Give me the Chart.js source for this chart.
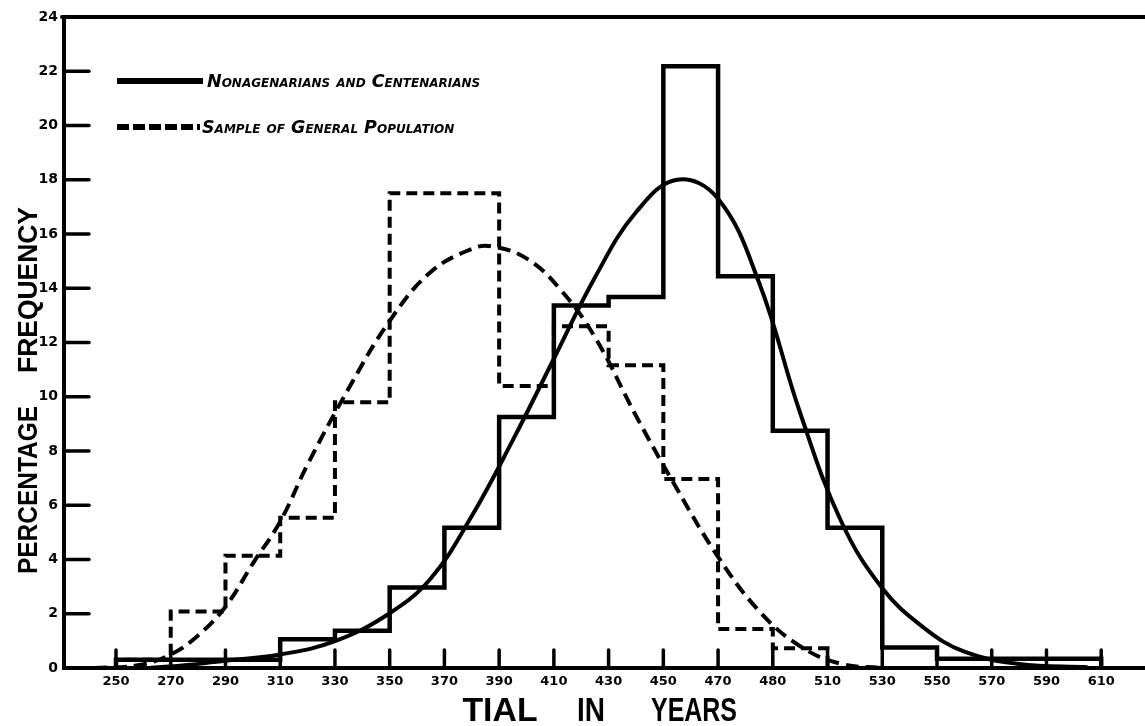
<!DOCTYPE html>
<html>
<head>
<meta charset="utf-8">
<script src="https://cdn.jsdelivr.net/npm/chart.js@4.4.1/dist/chart.umd.min.js"></script>
<style>
html,body{margin:0;padding:0;background:#fff;}
#wrap{width:1145px;height:726px;position:relative;}
</style>
</head>
<body>
<div id="wrap"><canvas id="c" width="1145" height="726"></canvas></div>
<script>
// ---- data ----
const binEdges = [250,270,290,310,330,350,370,390,410,430,450,470,490,510,530,550,570,590,610];
const tickYears = [250,270,290,310,330,350,370,390,410,430,450,470,490,510,530,550,570,590,610];
const tickLabels = ["250","270","290","310","330","350","370","390","410","430","450","470","480","510","530","550","570","590","610"];
const yTickValues = [2,4,6,8,10,12,14,16,18,20,22];

// histogram of nonagenarians & centenarians (bins 250-270 ... 590-610)
const nonagenarianPct = [0.3,0.3,0.3,1.06,1.37,2.97,5.17,9.25,13.36,13.68,22.18,14.44,8.75,5.17,0.76,0.34,0.34,0.34];
// histogram of general population sample (bins 250-270 ... 490-510)
const generalPct = [0.3,2.08,4.14,5.54,9.8,17.5,17.5,10.4,12.6,11.16,6.97,1.44,0.73];

// fitted curves
const nonagenarianCurveYears = [262,275,290,310,330,350,365,380,395,410,425,440,455,470,485,500,515,530,545,560,580,605];
const nonagenarianCurvePct   = [0,0.1,0.27,0.5,0.99,2.02,3.3,5.6,8.4,11.4,14.4,16.8,18.0,17.3,14.2,9.4,5.4,2.94,1.5,0.6,0.15,0.03];
const generalCurveYears = [242,258,270,280,290,300,310,320,335,350,365,380,387,400,412,425,440,455,470,485,500,515,530];
const generalCurvePct   = [0,0.1,0.5,1.2,2.26,3.85,5.4,7.5,10.3,12.8,14.6,15.45,15.55,15.1,14.0,12.2,9.3,6.6,4.1,2.1,0.8,0.15,0];

const legendLabels = ["Nonagenarians and Centenarians","Sample of General Population"];
const xTitleWords = ["TIAL","IN","YEARS"];
const yTitleWords = ["PERCENTAGE","FREQUENCY"];

// ---- helpers ----
function stepPoints(edges, vals){
  const pts = [{x:edges[0], y:0}];
  vals.forEach((v,i)=>pts.push({x:edges[i], y:v}));
  const last = edges[vals.length];
  pts.push({x:last, y:vals[vals.length-1]});
  pts.push({x:last, y:0});
  return pts;
}
function curvePoints(xs, ys){ return xs.map((x,i)=>({x:x, y:ys[i]})); }

const INK = '#000';

const framePlugin = {
  id:'frame',
  afterDraw(chart){
    const {ctx, chartArea:a, scales:{x,y}} = chart;
    ctx.save();
    ctx.strokeStyle = INK;
    ctx.lineCap = 'round';
    ctx.lineWidth = 4;
    ctx.beginPath(); ctx.moveTo(a.left-2, a.top); ctx.lineTo(a.right, a.top); ctx.stroke();
    ctx.lineWidth = 3.5;
    yTickValues.forEach(v=>{
      const py = y.getPixelForValue(v);
      ctx.beginPath(); ctx.moveTo(a.left+2, py); ctx.lineTo(a.left+25, py); ctx.stroke();
    });
    tickYears.forEach(v=>{
      const px = x.getPixelForValue(v);
      ctx.beginPath(); ctx.moveTo(px, a.bottom); ctx.lineTo(px, a.bottom-18); ctx.stroke();
    });
    ctx.restore();
  }
};

const legendPlugin = {
  id:'customLegend',
  afterDraw(chart){
    const ctx = chart.ctx;
    ctx.save();
    ctx.strokeStyle = INK; ctx.fillStyle = INK;
    ctx.lineWidth = 6; ctx.lineCap = 'butt';
    ctx.setLineDash([]);
    ctx.beginPath(); ctx.moveTo(117,81); ctx.lineTo(203,81); ctx.stroke();
    ctx.setLineDash([12,4]);
    ctx.beginPath(); ctx.moveTo(117,127); ctx.lineTo(200,127); ctx.stroke();
    ctx.setLineDash([]);
    ctx.font = "italic bold 17.5px 'DejaVu Sans'";
    if ('fontVariantCaps' in ctx) ctx.fontVariantCaps = 'small-caps';
    ctx.textAlign = 'left'; ctx.textBaseline = 'alphabetic';
    ctx.fillText(legendLabels[0], 207, 87, 276);
    ctx.fillText(legendLabels[1], 202, 133, 275);
    ctx.restore();
  }
};

const titlePlugin = {
  id:'axisTitles',
  afterDraw(chart){
    const ctx = chart.ctx;
    ctx.save();
    ctx.fillStyle = INK;
    ctx.textAlign = 'center'; ctx.textBaseline = 'alphabetic';
    ctx.font = "bold 34px 'Liberation Sans'";
    const xs = [500, 591, 694], ws = [75, 28, 86];
    xTitleWords.forEach((w,i)=>ctx.fillText(w, xs[i], 721, ws[i]));
    ctx.font = "bold 27px 'Liberation Sans'";
    const ys = [490, 290], wy = [168, 166];
    yTitleWords.forEach((w,i)=>{
      ctx.save();
      ctx.translate(37, ys[i]);
      ctx.rotate(-Math.PI/2);
      ctx.fillText(w, 0, 0, wy[i]);
      ctx.restore();
    });
    ctx.restore();
  }
};

new Chart(document.getElementById('c'), {
  type:'line',
  data:{
    datasets:[
      {label:legendLabels[0], data:stepPoints(binEdges, nonagenarianPct), stepped:true,
       borderColor:INK, borderWidth:4.5, pointRadius:0, fill:false, borderJoinStyle:'miter'},
      {label:legendLabels[0]+' (curve)', data:curvePoints(nonagenarianCurveYears, nonagenarianCurvePct),
       tension:0.4, borderColor:INK, borderWidth:4, pointRadius:0, fill:false},
      {label:legendLabels[1], data:stepPoints(binEdges, generalPct), stepped:true,
       borderColor:INK, borderWidth:4, borderDash:[11,6], pointRadius:0, fill:false},
      {label:legendLabels[1]+' (curve)', data:curvePoints(generalCurveYears, generalCurvePct),
       tension:0.4, borderColor:INK, borderWidth:4, borderDash:[13,7], pointRadius:0, fill:false}
    ]
  },
  options:{
    responsive:false,
    animation:false,
    devicePixelRatio:1,
    layout:{padding:{top:17,right:0,bottom:0,left:0}},
    plugins:{legend:{display:false}, tooltip:{enabled:false}, title:{display:false}},
    scales:{
      x:{
        type:'linear', min:231, max:626,
        afterBuildTicks:(s)=>{ s.ticks = tickYears.map(v=>({value:v})); },
        afterFit:(s)=>{ s.height = 58; },
        grid:{display:false, drawTicks:false},
        border:{display:true, color:INK, width:4},
        ticks:{autoSkip:false, maxRotation:0, padding:6, color:INK,
               font:{family:'DejaVu Sans', size:13, weight:'bold'},
               callback:(v,i)=>tickLabels[i]}
      },
      y:{
        min:0, max:24,
        afterFit:(s)=>{ s.width = 64; },
        grid:{display:false, drawTicks:false},
        border:{display:true, color:INK, width:4},
        ticks:{stepSize:2, padding:6, color:INK,
               font:{family:'DejaVu Sans', size:14, weight:'bold'},
               callback:(v)=>String(v)}
      }
    }
  },
  plugins:[framePlugin, legendPlugin, titlePlugin]
});
</script>
</body>
</html>
